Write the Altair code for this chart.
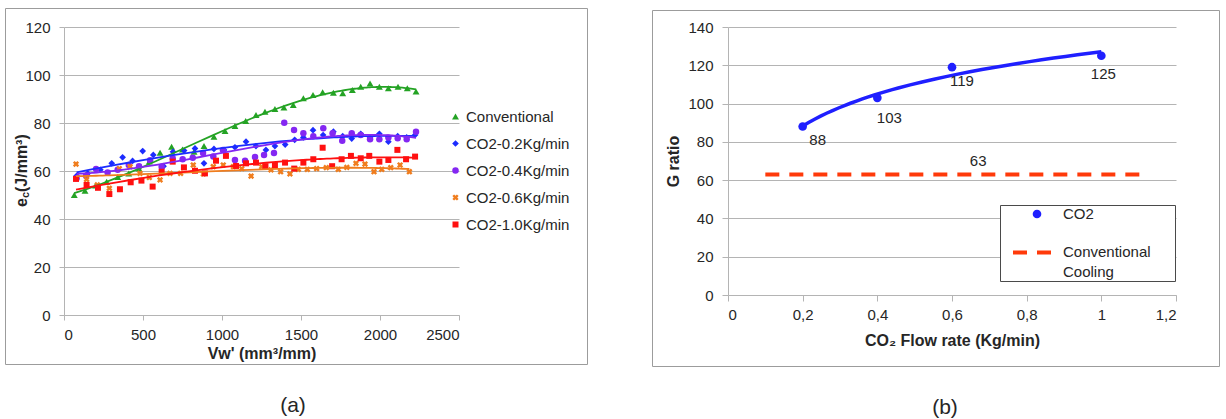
import altair as alt
import pandas as pd

FONT = "Liberation Sans"
INK = "#262626"
GRID = "#b4b4b4"
FRAME = "#9c9c9c"

# ---------------- (a) specific energy e_c against Vw' ----------------
series_names = ["Conventional", "CO2-0.2Kg/min", "CO2-0.4Kg/min",
                "CO2-0.6Kg/min", "CO2-1.0Kg/min"]
series_colors = ["#24a324", "#1c2cff", "#8427f2", "#f07d1e", "#ff1010"]
# thick "x" glyph for the 0.6 Kg/min series
X_GLYPH = ("M-1,-0.45L-0.45,-1L0,-0.55L0.45,-1L1,-0.45L0.55,0L1,0.45"
           "L0.45,1L0,0.55L-0.45,1L-1,0.45L-0.55,0Z")
series_shapes = ["triangle-up", "diamond", "circle", X_GLYPH, "square"]
series_sizes = [48, 36, 44, 80, 48]

conv_x = [65, 133, 200, 270, 340, 410, 475, 540, 608, 681, 750, 823, 886,
          949, 1019, 1082, 1150, 1215, 1272, 1335, 1392, 1451, 1515, 1576,
          1637, 1705, 1764, 1825, 1878, 1937, 1996, 2053, 2114, 2173, 2228]
conv_y = [50.0, 51.8, 54.0, 55.5, 57.5, 59.0, 61.0, 64.0, 67.6, 70.1, 69.0,
          68.0, 70.4, 74.3, 76.7, 78.8, 80.8, 83.3, 84.7, 85.8, 86.5, 87.5,
          90.3, 91.7, 92.8, 92.6, 92.4, 93.8, 95.1, 96.5, 95.1, 94.5, 95.1,
          94.5, 93.1]

co2_02_x = [80, 150, 230, 302, 371, 434, 498, 565, 630, 690, 760, 829, 886,
            949, 1013, 1082, 1152, 1215, 1278, 1335, 1400, 1460, 1515, 1576,
            1640, 1705, 1764, 1821, 1878, 1937, 1996, 2053, 2112, 2169, 2222]
co2_02_y = [58.0, 59.0, 60.5, 63.2, 65.7, 64.2, 68.3, 66.7, 62.0, 68.0, 68.5,
            69.4, 63.2, 69.2, 68.8, 69.9, 72.2, 70.4, 68.8, 70.4, 71.0, 73.0,
            74.0, 77.0, 75.0, 76.4, 74.5, 73.5, 75.5, 74.0, 75.5, 72.2, 74.5,
            74.0, 75.0]

co2_04_x = [80, 140, 203, 276, 340, 410, 475, 545, 618, 688, 751, 815, 880,
            945, 1006, 1082, 1146, 1209, 1266, 1329, 1394, 1456, 1515, 1578,
            1641, 1700, 1761, 1821, 1878, 1937, 1996, 2053, 2112, 2169, 2228]
co2_04_y = [57.0, 58.0, 60.8, 59.4, 60.5, 62.5, 62.0, 64.5, 61.8, 65.3, 64.9,
            65.5, 67.5, 66.0, 68.8, 64.6, 64.3, 65.8, 66.7, 67.5, 80.1, 77.1,
            75.7, 74.5, 77.8, 75.7, 72.6, 75.7, 75.0, 73.2, 73.2, 74.0, 73.6,
            73.2, 76.4]

co2_06_x = [76, 143, 211, 287, 350, 418, 481, 540, 608, 671, 738, 818, 882,
            945, 1008, 1072, 1125, 1184, 1251, 1310, 1371, 1430, 1483, 1540,
            1599, 1660, 1736, 1790, 1848, 1905, 1962, 2011, 2068, 2127, 2186]
co2_06_y = [62.9, 56.5, 54.2, 52.8, 61.0, 61.8, 59.0, 57.3, 56.3, 59.0, 59.0,
            62.5, 58.8, 61.8, 62.5, 61.8, 61.0, 57.9, 61.8, 60.5, 59.7, 58.8,
            60.7, 60.7, 61.0, 61.4, 60.7, 61.5, 63.2, 62.9, 59.7, 60.7, 61.4,
            62.5, 59.7]

co2_10_x = [76, 143, 215, 287, 354, 422, 490, 561, 618, 688, 759, 829, 892,
            962, 1025, 1089, 1152, 1215, 1275, 1335, 1399, 1457, 1515, 1578,
            1637, 1697, 1757, 1816, 1878, 1932, 1996, 2053, 2110, 2165, 2222]
co2_10_y = [56.7, 54.2, 53.0, 50.4, 52.4, 55.3, 56.0, 53.5, 59.7, 63.9, 61.5,
            60.1, 59.0, 64.3, 66.3, 62.1, 63.2, 63.5, 62.0, 62.5, 63.5, 61.0,
            63.5, 64.9, 69.7, 62.0, 64.9, 66.3, 65.3, 66.3, 63.9, 64.6, 68.8,
            64.9, 66.0]

x_ticks_a = [0, 500, 1000, 1500, 2000, 2500]
y_ticks_a = [0, 20, 40, 60, 80, 100, 120]

all_x = [conv_x, co2_02_x, co2_04_x, co2_06_x, co2_10_x]
all_y = [conv_y, co2_02_y, co2_04_y, co2_06_y, co2_10_y]
rows = []
for name, xs, ys in zip(series_names, all_x, all_y):
    rows += [{"series": name, "vw": x, "ec": y} for x, y in zip(xs, ys)]
df_a = pd.DataFrame(rows)
one = pd.DataFrame({"k": [0]})

W_A, H_A = 395, 288

x_a = alt.X("vw:Q", scale=alt.Scale(domain=[0, 2500], nice=False),
            axis=alt.Axis(values=x_ticks_a, format="d", grid=False,
                          title="Vw' (mm³/mm)", tickSize=5, labelPadding=7,
                          titlePadding=3))
y_a = alt.Y("ec:Q", scale=alt.Scale(domain=[0, 120], nice=False),
            axis=alt.Axis(values=y_ticks_a, grid=True, title=None,
                          tickSize=5, labelPadding=9))

legend_a = alt.Legend(orient="none", legendX=384, legendY=82, title=None,
                      labelFont=FONT, labelFontSize=15, labelColor=INK,
                      rowPadding=11, labelOffset=3)

frame_a = alt.Chart(one).mark_rect(fillOpacity=0, stroke=FRAME,
                                   strokeWidth=1).encode(
    x=alt.value(-58.5), x2=alt.value(523.5),
    y=alt.value(-18.5), y2=alt.value(337.5))

points_a = alt.Chart(df_a).mark_point(filled=True, opacity=1).encode(
    x=x_a, y=y_a,
    color=alt.Color("series:N",
                    scale=alt.Scale(domain=series_names, range=series_colors),
                    legend=legend_a),
    shape=alt.Shape("series:N",
                    scale=alt.Scale(domain=series_names, range=series_shapes),
                    legend=legend_a),
    size=alt.Size("series:N",
                  scale=alt.Scale(domain=series_names, range=series_sizes),
                  legend=legend_a),
)

trends = []
for name, col in zip(series_names, series_colors):
    trends.append(
        alt.Chart(df_a)
        .transform_filter(alt.datum.series == name)
        .transform_regression("vw", "ec", method="poly", order=3)
        .mark_line(color=col, strokeWidth=1.8)
        .encode(x=x_a, y=y_a)
    )

# rotated y title e_c(J/mm³) with a lowered "c"
title_style = dict(font=FONT, fontWeight="bold", color=INK, angle=270,
                   align="left", baseline="middle")
ytitle_e = alt.Chart(one).mark_text(text="e", fontSize=16, **title_style).encode(
    x=alt.value(-42), y=alt.value(180))
ytitle_c = alt.Chart(one).mark_text(text="c", fontSize=11, **title_style).encode(
    x=alt.value(-38.5), y=alt.value(171))
ytitle_rest = alt.Chart(one).mark_text(text="(J/mm³)", fontSize=16,
                                       **title_style).encode(
    x=alt.value(-42), y=alt.value(165))

caption_a = alt.Chart(one).mark_text(text="(a)", font=FONT, fontSize=21,
                                     color=INK, baseline="middle").encode(
    x=alt.value(229), y=alt.value(379))

left = alt.layer(frame_a, points_a, *trends, ytitle_e, ytitle_c, ytitle_rest,
                 caption_a).properties(width=W_A, height=H_A)

# ---------------- (b) G ratio against CO2 flow rate ----------------
flow = [0.2, 0.4, 0.6, 1.0]
g_ratio = [88, 103, 119, 125]
label_dx = [15, 12, 10, 2]
label_dy = [13, 20, 14, 18]

conv_flow = [0.1, 1.125]
conv_g = [63, 63]
conv_label_flow = 0.67

x_ticks_b = [0, 0.2, 0.4, 0.6, 0.8, 1.0, 1.2]
y_ticks_b = [0, 20, 40, 60, 80, 100, 120, 140]

df_b = pd.DataFrame({"flow": flow, "g": g_ratio})
df_conv = pd.DataFrame({"flow": conv_flow, "g": conv_g})
df_conv_lab = pd.DataFrame({"flow": [conv_label_flow], "g": [conv_g[0]]})

W_B, H_B = 448, 268
BLUE = "#1f1fff"
DASH_RED = "#ff3a0a"

x_b = alt.X("flow:Q", scale=alt.Scale(domain=[0, 1.2], nice=False),
            axis=alt.Axis(values=x_ticks_b, grid=False,
                          labelExpr="replace(format(datum.value, '~g'), '.', ',')",
                          title="CO₂ Flow rate (Kg/min)", tickSize=6,
                          labelPadding=6, titlePadding=10))
y_b = alt.Y("g:Q", scale=alt.Scale(domain=[0, 140], nice=False),
            axis=alt.Axis(values=y_ticks_b, grid=True, title="G ratio",
                          tickSize=6, labelPadding=9, titlePadding=6,
                          labelOverlap=False))

frame_b = alt.Chart(one).mark_rect(fillOpacity=0, stroke=FRAME,
                                   strokeWidth=1).encode(
    x=alt.value(-75.5), x2=alt.value(491.5),
    y=alt.value(-16.5), y2=alt.value(339.5))

conv_line = alt.Chart(df_conv).mark_line(color=DASH_RED, strokeWidth=4,
                                         strokeDash=[14, 10],
                                         strokeCap="butt").encode(x=x_b, y=y_b)
conv_text = alt.Chart(df_conv_lab).mark_text(font=FONT, fontSize=15, color=INK,
                                             dy=-13).encode(
    x=x_b, y=y_b, text="g:Q")

fit_line = alt.Chart(df_b).transform_regression(
    "flow", "g", method="log").mark_line(color=BLUE, strokeWidth=3.5).encode(
    x=x_b, y=y_b)
dots = alt.Chart(df_b).mark_circle(color=BLUE, opacity=1, size=75).encode(
    x=x_b, y=y_b)

value_labels = []
for i, f in enumerate(flow):
    value_labels.append(
        alt.Chart(df_b)
        .transform_filter(alt.datum.flow == f)
        .mark_text(font=FONT, fontSize=15, color=INK,
                   dx=label_dx[i], dy=label_dy[i])
        .encode(x=x_b, y=y_b, text="g:Q")
    )

# legend box
leg_box = alt.Chart(one).mark_rect(fill="white", stroke="#4a4a4a",
                                   strokeWidth=1).encode(
    x=alt.value(272.5), x2=alt.value(447.5),
    y=alt.value(178.5), y2=alt.value(254.5))
leg_dot = alt.Chart(one).mark_circle(color=BLUE, opacity=1, size=75).encode(
    x=alt.value(309), y=alt.value(187))
leg_dash = alt.Chart(one).mark_rule(color=DASH_RED, strokeWidth=4,
                                    strokeDash=[14, 10],
                                    strokeCap="butt").encode(
    x=alt.value(285), x2=alt.value(324), y=alt.value(225.5))
leg_style = dict(font=FONT, fontSize=15, color=INK, align="left",
                 baseline="middle")
leg_t1 = alt.Chart(one).mark_text(text="CO2", **leg_style).encode(
    x=alt.value(335), y=alt.value(187))
leg_t2 = alt.Chart(one).mark_text(text="Conventional", **leg_style).encode(
    x=alt.value(335), y=alt.value(225))
leg_t3 = alt.Chart(one).mark_text(text="Cooling", **leg_style).encode(
    x=alt.value(335), y=alt.value(245))

caption_b = alt.Chart(one).mark_text(text="(b)", font=FONT, fontSize=21,
                                     color=INK, baseline="middle").encode(
    x=alt.value(217), y=alt.value(381))

right = alt.layer(frame_b, conv_line, conv_text, fit_line, dots, *value_labels,
                  leg_box, leg_dot, leg_dash, leg_t1, leg_t2, leg_t3,
                  caption_b).properties(width=W_B, height=H_B)

chart = (
    alt.hconcat(left, right, spacing=64)
    .properties(padding={"left": 5, "top": 8, "right": 0, "bottom": 0},
                background="white")
    .configure_view(stroke=None)
    .configure_axis(labelFont=FONT, labelFontSize=15, labelColor=INK,
                    titleFont=FONT, titleFontSize=16, titleFontWeight="bold",
                    titleColor=INK, domainColor=GRID, tickColor=GRID,
                    gridColor=GRID, gridWidth=1)
)

chart.save("out.html", embed_options={"renderer": "svg", "actions": False})
